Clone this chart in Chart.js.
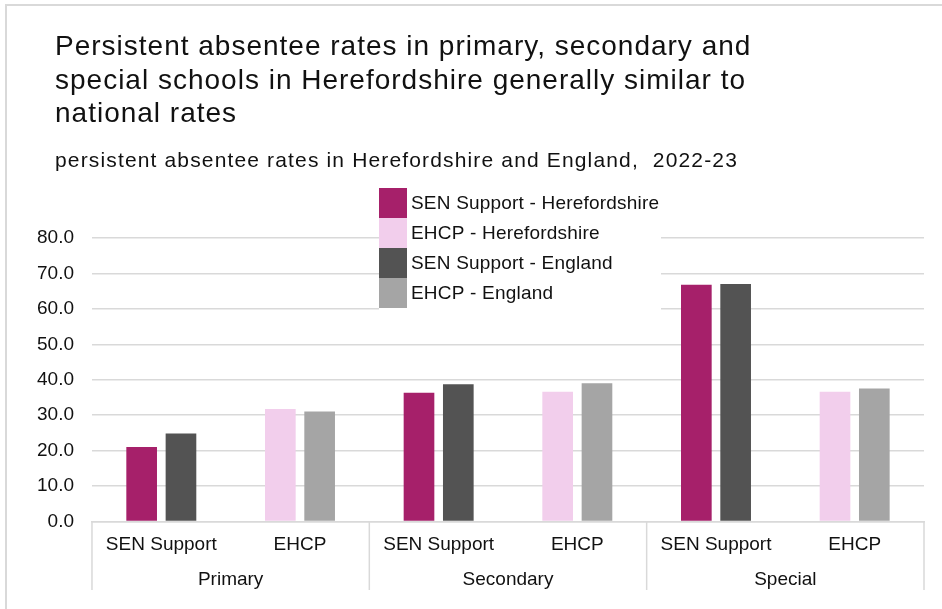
<!DOCTYPE html>
<html>
<head>
<meta charset="utf-8">
<script src="https://cdn.jsdelivr.net/npm/chart.js@4"></script>
<style>
  html, body { margin: 0; padding: 0; background: #fff; }
  .wrap { position: relative; width: 942px; height: 609px; overflow: hidden; }
  .frame { position: absolute; left: 5px; top: 4px; width: 1000px; height: 700px; border: 2px solid #d9d9d9; box-sizing: border-box; }
  canvas { position: absolute; left: 0; top: 0; }
</style>
</head>
<body>
<div class="wrap">
  <div class="frame"></div>
  <canvas id="myChart" width="942" height="609"></canvas>
</div>
<script>
const subCategories = ['SEN Support', 'EHCP', 'SEN Support', 'EHCP', 'SEN Support', 'EHCP'];
const phases = ['Primary', 'Secondary', 'Special'];

const senHereford = [21.0, null, 36.3, null, 66.8, null];
const ehcpHereford = [null, 31.7, null, 36.6, null, 36.6];
const senEngland = [24.8, null, 38.7, null, 67.0, null];
const ehcpEngland = [null, 31.0, null, 39.0, null, 37.5];

const yTicks = [0, 10, 20, 30, 40, 50, 60, 70, 80];

const titleLines = [
  'Persistent absentee rates in primary, secondary and',
  'special schools in Herefordshire generally similar to',
  'national rates'
];
const subtitleText = 'persistent absentee rates in Herefordshire and England,  2022-23';

const FONT = '"Liberation Sans", Arial, sans-serif';
const GRID = '#d9d9d9';

/* Headings drawn straight on the canvas */
const headings = {
  id: 'headings',
  afterDraw(chart) {
    const ctx = chart.ctx;
    ctx.save();
    ctx.fillStyle = '#111';
    ctx.textBaseline = 'alphabetic';
    ctx.textAlign = 'left';
    ctx.font = '28px ' + FONT;
    ctx.letterSpacing = '1px';
    titleLines.forEach(function (line, i) {
      ctx.fillText(line, 55, 55 + i * 33.5);
    });
    ctx.font = '21px ' + FONT;
    ctx.letterSpacing = '1.15px';
    ctx.fillText(subtitleText, 55, 167);
    ctx.restore();
  }
};

/* Separators between the outer groups of the category axis */
const groupLines = {
  id: 'groupLines',
  afterDraw(chart) {
    const x = chart.scales.x;
    const ctx = chart.ctx;
    const step = (x.right - x.left) / phases.length;
    ctx.save();
    ctx.strokeStyle = GRID;
    ctx.lineWidth = 1.5;
    for (let i = 0; i <= phases.length; i++) {
      const px = x.left + i * step;
      ctx.beginPath();
      ctx.moveTo(px, x.top);
      ctx.lineTo(px, 590);
      ctx.stroke();
    }
    ctx.restore();
  }
};

/* Legend box sitting over the plot, like the original */
const boxLegend = {
  id: 'boxLegend',
  afterDraw(chart) {
    const ctx = chart.ctx;
    const left = 379, top = 188, row = 30, box = 28, width = 282;
    const sets = chart.data.datasets;
    ctx.save();
    ctx.fillStyle = '#fff';
    ctx.fillRect(left, top, width, row * sets.length + 2);
    ctx.font = '19px ' + FONT;
    ctx.letterSpacing = '0.2px';
    ctx.textBaseline = 'middle';
    ctx.textAlign = 'left';
    sets.forEach(function (ds, i) {
      ctx.fillStyle = ds.backgroundColor;
      ctx.fillRect(left, top + i * row, box, row);
      ctx.fillStyle = '#111';
      ctx.fillText(ds.label, left + box + 4, top + i * row + row / 2 + 1);
    });
    ctx.restore();
  }
};

var ctx = document.getElementById('myChart').getContext('2d');

var chart = new Chart(ctx, {
  type: 'bar',
  data: {
    labels: subCategories,
    datasets: [
      {
        label: 'SEN Support - Herefordshire',
        backgroundColor: '#A6206A',
        data: senHereford,
      },
      {
        label: 'EHCP - Herefordshire',
        backgroundColor: '#F2CEEC',
        data: ehcpHereford,
      },
      {
        label: 'SEN Support - England',
        backgroundColor: '#535353',
        data: senEngland,
      },
      {
        label: 'EHCP - England',
        backgroundColor: '#A5A5A5',
        data: ehcpEngland,
      }
    ]
  },
  options: {
    responsive: false,
    animation: false,
    skipNull: true,
    categoryPercentage: 0.567,
    barPercentage: 0.78,
    layout: {
      padding: { top: 238, left: 19, right: 18, bottom: 18 }
    },
    plugins: {
      legend: { display: false },
      tooltip: { enabled: false }
    },
    scales: {
      x: {
        position: 'bottom',
        grid: { display: false, drawTicks: false },
        border: { display: true, color: GRID, width: 1.5 },
        ticks: {
          color: '#111',
          font: { family: FONT, size: 19 },
          padding: 12,
          maxRotation: 0,
          autoSkip: false
        }
      },
      x2: {
        type: 'category',
        position: 'bottom',
        labels: phases,
        grid: { display: false, drawTicks: false },
        border: { display: false },
        ticks: {
          color: '#111',
          font: { family: FONT, size: 19 },
          padding: 0,
          maxRotation: 0,
          autoSkip: false
        }
      },
      y: {
        min: 0,
        max: 80,
        afterBuildTicks: function (axis) {
          axis.ticks = yTicks.map(function (v) { return { value: v }; });
        },
        grid: { color: GRID, lineWidth: 1.5, drawTicks: false },
        border: { display: false },
        ticks: {
          color: '#111',
          font: { family: FONT, size: 19 },
          padding: 18,
          callback: function (v) { return Number(v).toFixed(1); }
        }
      }
    }
  },
  plugins: [headings, groupLines, boxLegend]
});
</script>
</body>
</html>
